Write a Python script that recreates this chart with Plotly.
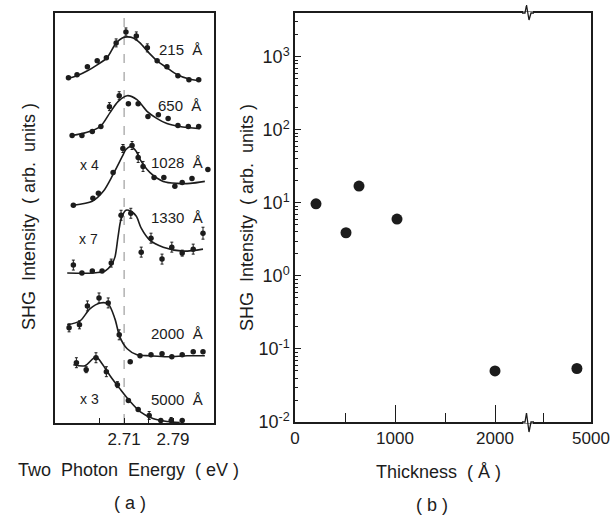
import plotly.graph_objects as go

# ---------------- Panel (a): SHG spectra (stacked, arbitrary units) ----------------
E215 = [2.619, 2.633, 2.650, 2.666, 2.681, 2.697, 2.713, 2.730, 2.748, 2.764, 2.780, 2.798, 2.816, 2.832]
I215 = [34.5, 34.8, 35.6, 36.2, 36.5, 38.0, 39.1, 38.7, 37.5, 36.2, 35.6, 34.7, 34.3, 34.3]
err215 = [0, 0, 0, 0, 0, 0.4, 0.4, 0.4, 0.4, 0, 0, 0, 0, 0]
fitE215 = [2.617, 2.633, 2.650, 2.666, 2.682, 2.697, 2.707, 2.715, 2.725, 2.736, 2.749, 2.764, 2.780, 2.797, 2.815, 2.834]
fitI215 = [34.4, 34.7, 35.2, 35.8, 36.5, 38.0, 38.5, 38.6, 38.5, 38.0, 37.1, 36.2, 35.5, 34.8, 34.4, 34.2]

E650 = [2.625, 2.641, 2.658, 2.672, 2.686, 2.702, 2.717, 2.733, 2.749, 2.766, 2.782, 2.798, 2.815, 2.832]
I650 = [28.7, 28.7, 29.1, 29.6, 31.6, 32.7, 31.9, 31.9, 30.6, 30.8, 30.4, 29.7, 29.6, 29.6]
err650 = [0, 0, 0, 0, 0.4, 0.4, 0, 0, 0, 0, 0, 0, 0, 0]
fitE650 = [2.625, 2.648, 2.671, 2.687, 2.700, 2.715, 2.731, 2.748, 2.764, 2.780, 2.801, 2.834]
fitI650 = [28.7, 29.0, 29.6, 31.0, 32.1, 32.7, 32.3, 31.1, 30.4, 29.9, 29.6, 29.4]

E1028 = [2.627, 2.659, 2.668, 2.692, 2.708, 2.723, 2.733, 2.741, 2.759, 2.775, 2.793, 2.805, 2.821, 2.847]
I1028 = [21.7, 22.4, 22.9, 25.0, 27.4, 27.7, 26.5, 25.6, 24.5, 24.5, 23.6, 24.0, 24.4, 25.3]
err1028 = [0, 0, 0, 0, 0.4, 0.4, 0.5, 0.5, 0, 0, 0, 0, 0, 0]
fitE1028 = [2.627, 2.658, 2.676, 2.692, 2.707, 2.713, 2.721, 2.730, 2.736, 2.752, 2.774, 2.797, 2.818, 2.842]
fitI1028 = [21.7, 22.1, 23.1, 24.8, 26.6, 27.3, 27.6, 27.1, 26.3, 25.0, 24.1, 23.9, 23.9, 24.1]

E1330 = [2.627, 2.641, 2.658, 2.674, 2.689, 2.705, 2.721, 2.738, 2.754, 2.772, 2.788, 2.805, 2.823, 2.839]
I1330 = [15.7, 14.9, 15.1, 15.1, 15.9, 20.7, 20.9, 17.0, 18.4, 16.3, 17.5, 16.9, 17.3, 18.9]
err1330 = [0.5, 0, 0, 0, 0.4, 0.5, 0.5, 0.5, 0.5, 0.5, 0.5, 0.3, 0.5, 0.6]
fitE1330 = [2.617, 2.659, 2.679, 2.689, 2.695, 2.700, 2.705, 2.713, 2.721, 2.730, 2.738, 2.752, 2.774, 2.806, 2.839]
fitI1330 = [14.9, 14.9, 15.1, 15.7, 16.5, 18.5, 20.3, 21.2, 21.1, 20.6, 19.4, 18.2, 17.5, 17.1, 17.3]

E2000 = [2.620, 2.637, 2.650, 2.669, 2.684, 2.702, 2.720, 2.736, 2.754, 2.772, 2.788, 2.805, 2.823, 2.839]
I2000 = [9.4, 9.7, 11.6, 12.4, 11.9, 8.7, 6.0, 6.6, 6.7, 6.8, 6.5, 6.7, 7.0, 7.0]
err2000 = [0.4, 0.4, 0.5, 0.5, 0.5, 0.5, 0, 0, 0, 0, 0, 0, 0, 0]
fitE2000 = [2.617, 2.638, 2.654, 2.671, 2.684, 2.695, 2.703, 2.715, 2.731, 2.752, 2.780, 2.813, 2.842]
fitI2000 = [9.7, 10.1, 11.3, 11.9, 11.8, 10.3, 8.5, 7.3, 6.7, 6.6, 6.5, 6.6, 6.6]

E5000 = [2.632, 2.648, 2.664, 2.681, 2.699, 2.717, 2.733, 2.751, 2.770, 2.787, 2.805]
I5000 = [5.9, 5.2, 6.4, 5.0, 3.7, 2.1, 1.2, 0.6, 0.1, 0.1, 0.1]
err5000 = [0.5, 0.3, 0.5, 0.5, 0.3, 0, 0, 0.4, 0, 0.3, 0]
fitE5000 = [2.627, 2.646, 2.664, 2.674, 2.687, 2.703, 2.720, 2.736, 2.757, 2.780, 2.801]
fitI5000 = [5.7, 5.6, 6.5, 5.8, 4.6, 3.3, 2.0, 1.0, 0.3, 0.0, -0.1]

spectra = [
    (E215, I215, err215, fitE215, fitI215),
    (E650, I650, err650, fitE650, fitI650),
    (E1028, I1028, err1028, fitE1028, fitI1028),
    (E1330, I1330, err1330, fitE1330, fitI1330),
    (E2000, I2000, err2000, fitE2000, fitI2000),
    (E5000, I5000, err5000, fitE5000, fitI5000),
]

# sample labels: (text, energy, stacked level)
thick_labels = ["215  Å", "650  Å", "1028  Å", "1330  Å", "2000  Å", "5000  Å"]
label_E = [2.803, 2.800, 2.797, 2.797, 2.797, 2.797]
label_I = [37.3, 31.7, 26.0, 20.5, 8.8, 2.2]
scale_labels = ["x 4", "x 7", "x 3"]
scale_E = [2.654, 2.651, 2.653]
scale_I = [25.7, 18.3, 2.3]

a_xticks = [2.71, 2.79]
a_xminor = [2.67, 2.75]

# ---------------- Panel (b): SHG intensity vs thickness ----------------
thickness = [210, 510, 640, 1020, 2000, 4850]
shg = [9.7, 3.9, 17.0, 6.0, 0.050, 0.054]

b_xticks_left = [0, 1000, 2000]
b_xminor_left = [500, 1500]
b_xticks_right = [5000]
b_xminor_right = [4500]
b_yticks = [0.01, 0.1, 1, 10, 100, 1000]
b_yticktext = ["10<sup>-2</sup>", "10<sup>-1</sup>", "10<sup>0</sup>",
               "10<sup>1</sup>", "10<sup>2</sup>", "10<sup>3</sup>"]

W, H = 613, 523
INK = "#1c1c1c"
FONT = "Liberation Sans, Arial, sans-serif"


def px(x):
    return x / W


def py(y):
    return 1 - y / H


fig = go.Figure()

for E, I, err, fE, fI in spectra:
    fig.add_trace(go.Scatter(x=fE, y=fI, mode="lines", xaxis="x", yaxis="y",
                             line=dict(color=INK, width=1.6, shape="spline", smoothing=0.8),
                             hoverinfo="skip", showlegend=False))
    fig.add_trace(go.Scatter(x=E, y=I, mode="markers", xaxis="x", yaxis="y",
                             marker=dict(color=INK, size=5.5),
                             error_y=dict(type="data", array=err, visible=True,
                                          color=INK, thickness=1, width=1.5),
                             cliponaxis=False, showlegend=False))

fig.add_trace(go.Scatter(x=thickness[:5], y=shg[:5], mode="markers", xaxis="x2", yaxis="y2",
                         marker=dict(color=INK, size=11), cliponaxis=False, showlegend=False))
fig.add_trace(go.Scatter(x=thickness[5:], y=shg[5:], mode="markers", xaxis="x3", yaxis="y3",
                         marker=dict(color=INK, size=11), cliponaxis=False, showlegend=False))

axline = dict(showline=True, linecolor=INK, linewidth=1.5, showgrid=False, zeroline=False,
              automargin=False)
tickfont = dict(family=FONT, size=17, color=INK)

fig.update_layout(
    template="none",
    width=W, height=H, margin=dict(l=0, r=0, t=0, b=0, pad=0), autosize=False,
    paper_bgcolor="white", plot_bgcolor="white",
    font=dict(family=FONT, color=INK),
    xaxis=dict(domain=[px(55), px(214)], range=[2.597, 2.857], anchor="y",
               tickvals=a_xticks, ticktext=[f"{v:.2f}" for v in a_xticks],
               ticks="inside", ticklen=5, tickcolor=INK, tickwidth=1.2,
               minor=dict(tickvals=a_xminor, ticks="inside", ticklen=5,
                          tickcolor=INK, tickwidth=1.2, showgrid=False),
               mirror=True, tickfont=tickfont, **axline),
    yaxis=dict(domain=[py(423), py(13)], range=[-0.15, 41.0], anchor="x",
               showticklabels=False, ticks="", mirror=True, **axline),
    xaxis2=dict(domain=[px(295), px(528)], range=[0, 2330], anchor="y2",
                tickvals=b_xticks_left, ticktext=[str(v) for v in b_xticks_left],
                ticks="inside", ticklen=17, tickcolor=INK, tickwidth=1.2,
                minor=dict(tickvals=b_xminor_left, ticks="inside", ticklen=9,
                           tickcolor=INK, tickwidth=1.2, showgrid=False),
                mirror=True, tickfont=tickfont, **axline),
    yaxis2=dict(domain=[py(422), py(13)], type="log", range=[-2, 3.6], anchor="x2",
                tickvals=b_yticks, ticktext=b_yticktext, ticks="inside", ticklen=6,
                tickcolor=INK, tickwidth=1.2,
                minor=dict(tickvals=[k * 10 ** n for n in range(-2, 4) for k in range(2, 10)],
                           ticks="inside", ticklen=3, tickcolor=INK, tickwidth=0.8, showgrid=False),
                tickfont=dict(family=FONT, size=18, color=INK), **axline),
    xaxis3=dict(domain=[px(528), px(591)], range=[4330, 5000], anchor="y3",
                tickvals=b_xticks_right, ticktext=[str(v) for v in b_xticks_right],
                ticks="", minor=dict(tickvals=b_xminor_right, ticks="inside", ticklen=9,
                                     tickcolor=INK, tickwidth=1.2, showgrid=False),
                mirror=True, tickfont=tickfont, **axline),
    yaxis3=dict(domain=[py(422), py(13)], type="log", range=[-2, 3.6], anchor="x3",
                side="right", showticklabels=False, ticks="", **axline),
)

# dashed reference line at 2.71 eV
fig.add_shape(type="line", xref="x", yref="y domain", x0=2.71, x1=2.71, y0=0, y1=1,
              line=dict(color="#8a8a8a", width=1, dash="dash"), layer="below")

# labels inside panel (a)
for t, e, i in zip(thick_labels, label_E, label_I):
    fig.add_annotation(x=e, y=i, xref="x", yref="y", text=t, showarrow=False,
                       font=dict(family=FONT, size=15, color=INK))
for t, e, i in zip(scale_labels, scale_E, scale_I):
    fig.add_annotation(x=e, y=i, xref="x", yref="y", text=t, showarrow=False,
                       font=dict(family=FONT, size=14, color=INK))

# axis titles and panel labels
titles = [
    ("Two  Photon  Energy  ( eV )", 128, 470, 0),
    ("Thickness  ( Å )", 438, 472, 0),
    ("SHG  Intensity  ( arb.  units )", 29, 217, -90),
    ("SHG  Intensity  ( arb.  units )", 247, 217, -90),
    ("( a )", 130, 503, 0),
    ("( b )", 432, 505, 0),
]
for t, x, y, ang in titles:
    fig.add_annotation(x=px(x), y=py(y), xref="paper", yref="paper", text=t, showarrow=False,
                       textangle=ang, xanchor="center", yanchor="middle",
                       font=dict(family=FONT, size=18, color=INK))

# axis break marks (decoration)
for (yl, up, dn) in [(13, 5, 20), (422, 413, 432)]:
    fig.add_shape(type="rect", xref="paper", yref="paper", x0=px(523), x1=px(533),
                  y0=py(yl + 1.5), y1=py(yl - 1.5), fillcolor="white", line=dict(width=0),
                  layer="above")
    path = (f"M {px(522)},{py(yl)} L {px(525)},{py(yl)} L {px(526.5)},{py(up)} "
            f"L {px(529)},{py(dn)} L {px(531)},{py(yl)} L {px(534)},{py(yl)}")
    fig.add_shape(type="path", xref="paper", yref="paper", path=path,
                  line=dict(color=INK, width=1.3), layer="above")

fig.write_html("out.html", config={"displayModeBar": False},
               post_script="document.body.style.margin='0px';document.body.style.padding='0px';")
